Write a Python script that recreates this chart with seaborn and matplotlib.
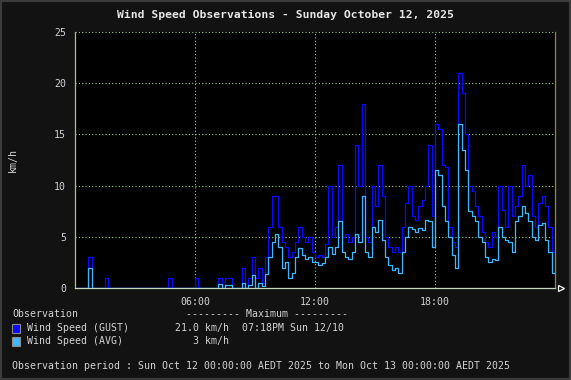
import numpy as np
import pandas as pd
import matplotlib
matplotlib.use("Agg")
import matplotlib.pyplot as plt
from matplotlib.patches import Rectangle
import seaborn as sns

# =========================
# Data (10-minute steps, km/h)
# =========================
gust = [
    0, 0, 0, 0, 3, 0,            # 00
    0, 0, 0, 1, 0, 0,            # 01
    0, 0, 0, 0, 0, 0,            # 02
    0, 0, 0, 0, 0, 0,            # 03
    0, 0, 0, 0, 1, 0,            # 04
    0, 0, 0, 0, 0, 0,            # 05
    1, 0, 0, 0, 0, 0,            # 06
    0, 1, 0, 1, 1, 0,            # 07
    0, 0, 2, 0, 1, 3,            # 08
    1, 2, 0.5, 3, 6, 9,          # 09
    9, 6, 4.5, 4, 3, 3.5,        # 10
    4.5, 6, 5, 4.5, 5, 3.5,      # 11
    3, 3.2, 3, 4.3, 10, 5,       # 12
    6, 12, 5, 5.3, 4.5, 5,       # 13
    14, 10, 18, 5, 4.5, 10,      # 14
    8, 12, 9, 5, 4, 3.5,         # 15
    4, 3.5, 6, 8.3, 10, 7,       # 16
    6.6, 8, 8.6, 10, 14, 7,      # 17
    16, 15.5, 12, 11.8, 6, 4.5,  # 18
    4, 21, 19, 15, 10, 9.5,      # 19
    8, 7, 5.5, 4.5, 4, 5.5,      # 20
    5, 10, 7.6, 6, 10, 7,        # 21
    8, 9, 12, 10, 11, 7,         # 22
    6, 8.3, 9, 8, 6, 3.5,        # 23
]
avg = [
    0, 0, 0, 0, 2, 0,            # 00
    0, 0, 0, 0, 0, 0,            # 01
    0, 0, 0, 0, 0, 0,            # 02
    0, 0, 0, 0, 0, 0,            # 03
    0, 0, 0, 0, 0, 0,            # 04
    0, 0, 0, 0, 0, 0,            # 05
    0, 0, 0, 0, 0, 0,            # 06
    0, 0.4, 0, 0.3, 0.3, 0,      # 07
    0, 0, 0.5, 0, 0.3, 1.3,      # 08
    0, 0.5, 0.2, 1.4, 3, 4.5,    # 09
    5.3, 4, 2, 2.5, 1, 1.5,      # 10
    3, 3.9, 3.2, 2.8, 3, 2.5,    # 11
    2.5, 2.2, 2.4, 3, 4, 3.3,    # 12
    4, 6.5, 3.5, 3, 2.8, 3.5,    # 13
    5.3, 4.5, 9, 3.5, 3, 6,      # 14
    5.5, 6.6, 4.7, 3, 2.2, 1.8,  # 15
    2, 1.5, 3.5, 5, 6, 5.8,      # 16
    5.5, 5.9, 5.7, 6.6, 6.5, 4,  # 17
    11.5, 11, 8, 6.5, 5, 3.2,    # 18
    2, 16, 13.5, 11.5, 7.5, 7,   # 19
    6.5, 5, 4.5, 3, 2.5, 2.8,    # 20
    2.7, 6, 5, 4.7, 4.5, 3.5,    # 21
    6.5, 7, 8, 7.3, 6.5, 5,      # 22
    4.7, 6.2, 6.3, 4.7, 3.5, 1.5,  # 23
]
x_ticks = [6, 12, 18]
x_tick_labels = ["06:00", "12:00", "18:00"]
y_ticks = [0, 5, 10, 15, 20, 25]

# hours since midnight; last value repeated so the step reaches 24:00
hours = np.arange(len(gust) + 1) / 6.0
df = pd.DataFrame({
    "hour": hours,
    "gust": gust + [gust[-1]],
    "avg": avg + [avg[-1]],
})

# =========================
# Style
# =========================
W, H = 571, 380
BG = "#121212"
TXT = "#d4d4d4"
GRID = "#9fce8f"
GUST_C = "#0a0aff"
AVG_C = "#40b8ff"

sns.set_style("dark")
plt.rcParams["font.family"] = ["DejaVu Sans Mono", "DejaVu Sans"]
plt.rcParams["font.size"] = 7.1


def fx(x):
    return x / W


def fy(y):
    return 1 - y / H


fig = plt.figure(figsize=(W / 100, H / 100), dpi=100, facecolor=BG)
ax = fig.add_axes([fx(75), fy(288), 480 / W, 256 / H])
ax.set_facecolor("black")

sns.lineplot(data=df, x="hour", y="gust", ax=ax, color=GUST_C,
             drawstyle="steps-post", linewidth=0.9, zorder=3)
sns.lineplot(data=df, x="hour", y="avg", ax=ax, color=AVG_C,
             drawstyle="steps-post", linewidth=0.9, zorder=4)

ax.set_xlim(0, 24)
ax.set_ylim(0, 25)
ax.set_xticks(x_ticks)
ax.set_xticklabels(x_tick_labels)
ax.set_yticks(y_ticks)
ax.set_xlabel("")
ax.set_ylabel("km/h", color=TXT)
ax.yaxis.set_label_coords(-57 / 480, 0.5)

ax.grid(True, color=GRID, linestyle=(0, (1, 2)), linewidth=0.8)
ax.tick_params(colors=GRID, labelcolor=TXT, length=2.5, width=0.8, pad=4)

ax.spines["top"].set_visible(False)
ax.spines["left"].set_color("#a8c878")
ax.spines["bottom"].set_color("#c4d6c0")
ax.spines["right"].set_color("#8c8c3c")
for s in ax.spines.values():
    s.set_linewidth(0.9)

# arrow at end of x axis
ax.plot([1.012], [0], transform=ax.transAxes, marker=">", markersize=5,
        markerfacecolor="none", markeredgecolor="white", markeredgewidth=0.9,
        clip_on=False, zorder=6)

# =========================
# Title & legend block
# =========================
fig.text(0.5, fy(15), "Wind Speed Observations - Sunday October 12, 2025",
         ha="center", va="center", color="#e6e6e6", fontsize=8.2,
         fontweight="bold")

fig.text(fx(12), fy(314), "Observation", color=TXT, va="center")
fig.text(fx(267), fy(314), "--------- Maximum ---------", color=TXT,
         va="center", ha="center")

rows = [
    (GUST_C, "Wind Speed (GUST)", "21.0 km/h", "07:18PM Sun 12/10", 328),
    (AVG_C, "Wind Speed (AVG)", "3 km/h", "", 341),
]
for color, label, val, when, y in rows:
    fig.patches.append(Rectangle((fx(12), fy(y + 4.5)), 8 / W, 9 / H,
                                 transform=fig.transFigure, facecolor=color,
                                 edgecolor="#8a8a8a", linewidth=0.8))
    fig.text(fx(27), fy(y), label, color=TXT, va="center")
    fig.text(fx(229), fy(y), val, color=TXT, va="center", ha="right")
    if when:
        fig.text(fx(242), fy(y), when, color=TXT, va="center")

fig.text(fx(12), fy(366),
         "Observation period : Sun Oct 12 00:00:00 AEDT 2025 to "
         "Mon Oct 13 00:00:00 AEDT 2025", color=TXT, va="center")

# outer frame
fig.patches.append(Rectangle((0, 0), 1, 1, transform=fig.transFigure,
                             fill=False, edgecolor="#3c3c3c", linewidth=3))

fig.savefig("out.png", dpi=100, facecolor=BG)
plt.close(fig)
